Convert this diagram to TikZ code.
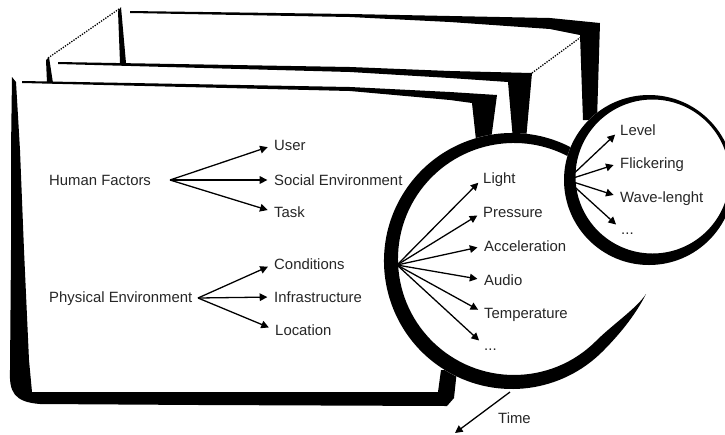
\documentclass[tikz,border=0pt]{standalone}
\usepackage{fontspec}
\setmainfont{Liberation Sans}
\usetikzlibrary{arrows.meta}

\begin{document}
\begin{tikzpicture}[x=0.03cm,y=-0.03cm,
    brush/.style={fill=black,draw=none},
    lbl/.style={anchor=west,inner sep=0pt,text height=11pt,text depth=2pt,text=black!85,font=\fontsize{12.7}{15}\selectfont},
    arr/.style={-{Triangle[length=6.5pt,width=6.5pt]},line width=1.1pt,shorten >=2mm},
    dotline/.style={line width=1.1pt,dash pattern=on 1.1pt off 1.1pt}]
    \useasboundingbox (0,0) rectangle (725,434);
    \clip (0,0) rectangle (725,434);

    \fill [brush](130,11)--(350,14)--(450,16)--(550,18)--(600,23)--(597,120)--(583,120)--(580,35)--(550,29)--(450,22)--(350,17)--(130,13)--cycle;
    \fill [brush](118,11)--(121,7)--(126,63)--(120,63)--cycle;
    \fill [brush](58,62)--(350,67)--(450,71)--(532,73)--(526,140)--(513,140)--(508,82)--(450,78)--(350,72)--(58,64)--cycle;
    \fill [brush](46,60)--(49,57)--(53,83)--(47,83)--cycle;
    \fill [brush](22,81)--(350,87)--(450,92)--(497,95)--(491,140)--(476,140)--(472,103)--(450,100)--(350,91)--(22,83)--cycle;
    \fill [brush](12,77)--(16,82)--(20,150)--(24,250)--(29,360)--(32,392)--(438,392)--(441,370)--(457,370)--(454,398)--(447,406)--(200,405)--(40,404) .. controls (14,402) and (9,392) .. (10,370)--(11,250)--(11,150)--cycle;
    \draw [dotline](48,58)--(119,9);
    \draw [dotline](532,73)--(581,37);

    \fill [white](512,261) circle[radius=128];
    \fill [brush](512,261) ++(300:128) arc[start angle=300,end angle=45,radius=128] .. controls (622.5,331.5) and (637,312) .. (646,294) .. controls (637,308) and (612,325) .. (596,341) arc[start angle=45,end angle=300,radius=116]--cycle;
    \fill [white](649,180) circle[radius=85];
    \fill [brush,even odd rule](649,180) circle[radius=85] (652.5,176.5) circle[radius=77];

    \node [lbl](hf)at(49,180){Human Factors};
    \node [lbl](us)at(274,145){User};
    \node [lbl](so)at(274,180){Social Environment};
    \node [lbl](ta)at(274,212){Task};
    \node [lbl](pe)at(49,297){Physical Environment};
    \node [lbl](co)at(274,264){Conditions};
    \node [lbl](inf)at(274,297){Infrastructure};
    \node [lbl](lo)at(275,330){Location};
    \node [lbl](li)at(483,178){Light};
    \node [lbl](pr)at(483,212){Pressure};
    \node [lbl](ac)at(484,246){Acceleration};
    \node [lbl](au)at(484,280){Audio};
    \node [lbl](te)at(484,313){Temperature};
    \node [lbl](da)at(484,345){...};
    \node [lbl](le)at(620,130){Level};
    \node [lbl](fl)at(620,163){Flickering};
    \node [lbl](wa)at(620,197){Wave-lenght};
    \node [lbl](db)at(621,229){...};
    \node [lbl](ti)at(498,418){Time};
    \coordinate (o1) at (170,180);
    \coordinate (o2) at (198,298);
    \coordinate (o3) at (397,265);
    \coordinate (o4) at (567,180);
    \coordinate (t0) at (510,392);
    \coordinate (t1) at (455,433);

    \draw [arr](o1)--(us.west);
    \draw [arr](o1)--(so.west);
    \draw [arr](o1)--(ta.west);
    \draw [arr](o2)--(co.west);
    \draw [arr](o2)--(inf.west);
    \draw [arr](o2)--(lo.west);
    \draw [arr](o3)--(li.west);
    \draw [arr](o3)--(pr.west);
    \draw [arr](o3)--(ac.west);
    \draw [arr](o3)--(au.west);
    \draw [arr](o3)--(te.west);
    \draw [arr](o3)--(da.west);
    \draw [arr](o4)--(le.west);
    \draw [arr](o4)--(fl.west);
    \draw [arr](o4)--(wa.west);
    \draw [arr](o4)--(db.west);
    \draw [arr,shorten >=0pt](t0)--(t1);
\end{tikzpicture}
\end{document}
